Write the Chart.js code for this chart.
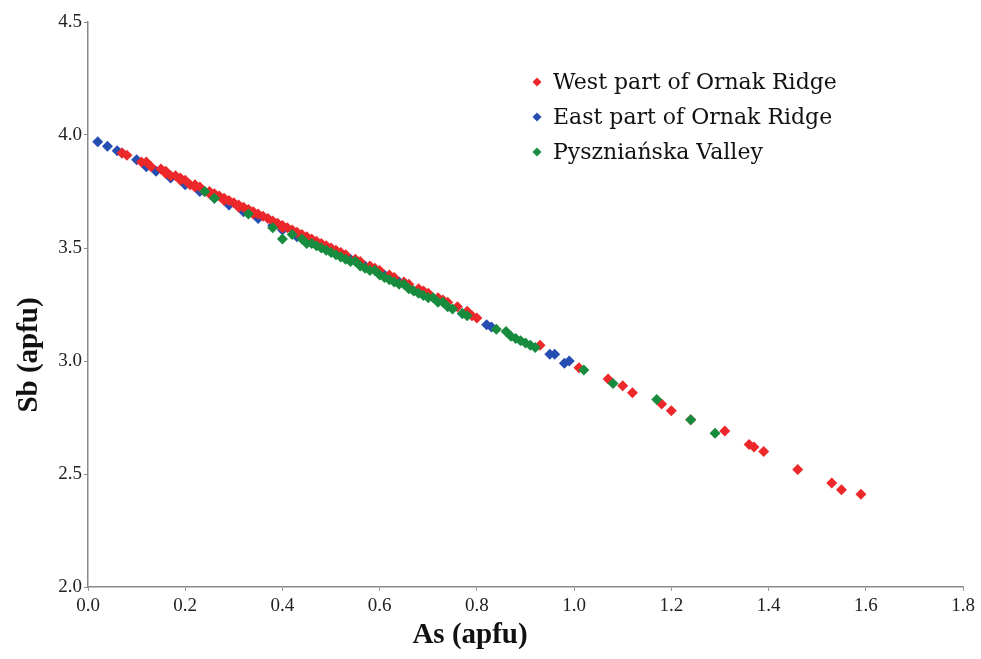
<!DOCTYPE html>
<html>
<head>
<meta charset="utf-8">
<script src="https://cdn.jsdelivr.net/npm/chart.js@4.4.1/dist/chart.umd.min.js"></script>
<style>
  html, body { margin: 0; padding: 0; background: #fff; }
  #wrap { width: 981px; height: 659px; }
</style>
</head>
<body>
<div id="wrap"><canvas id="sb-as-chart" width="981" height="659"></canvas></div>
<script>
// West part of Ornak Ridge
var westAs = [0.07,0.08,0.11,0.12,0.13,0.15,0.16,0.16,0.17,0.18,0.19,0.19,0.20,0.21,0.22,0.22,0.23,0.24,0.25,0.25,
  0.26,0.27,0.28,0.28,0.29,0.30,0.31,0.31,0.32,0.33,0.34,0.34,0.35,0.36,0.37,0.38,0.39,0.40,0.40,0.41,
  0.42,0.43,0.44,0.45,0.46,0.47,0.48,0.49,0.50,0.51,0.52,0.53,0.55,0.56,0.58,0.59,0.60,0.62,0.63,0.65,
  0.66,0.68,0.69,0.70,0.72,0.73,0.74,0.76,0.78,0.79,0.80,0.93,1.01,1.07,1.10,1.12,1.18,1.20,1.24,1.31,
  1.36,1.37,1.39,1.46,1.53,1.55,1.59];
var westSb = [3.92,3.91,3.88,3.88,3.86,3.85,3.84,3.83,3.82,3.82,3.80,3.81,3.80,3.78,3.78,3.77,3.77,3.75,3.75,3.74,
  3.74,3.73,3.72,3.71,3.71,3.70,3.69,3.68,3.68,3.67,3.66,3.65,3.65,3.64,3.63,3.62,3.61,3.60,3.59,3.59,
  3.58,3.57,3.56,3.55,3.54,3.53,3.52,3.51,3.50,3.49,3.48,3.47,3.45,3.44,3.42,3.41,3.40,3.38,3.37,3.35,
  3.34,3.32,3.31,3.30,3.28,3.27,3.26,3.24,3.22,3.20,3.19,3.07,2.97,2.92,2.89,2.86,2.81,2.78,2.74,2.69,
  2.63,2.62,2.60,2.52,2.46,2.43,2.41];

// East part of Ornak Ridge
var eastAs = [0.02,0.04,0.06,0.07,0.10,0.12,0.14,0.17,0.20,0.23,0.26,0.29,0.32,0.35,0.38,0.40,0.43,0.45,0.47,0.50,
  0.54,0.57,0.61,0.64,0.66,0.70,0.77,0.82,0.83,0.95,0.96,0.98,0.99];
var eastSb = [3.97,3.95,3.93,3.92,3.89,3.86,3.84,3.81,3.78,3.75,3.72,3.69,3.66,3.63,3.60,3.58,3.55,3.54,3.52,3.49,
  3.45,3.42,3.38,3.35,3.33,3.29,3.21,3.16,3.15,3.03,3.03,2.99,3.00];

// Pyszniańska Valley
var pyszAs = [0.24,0.26,0.33,0.38,0.40,0.42,0.44,0.45,0.46,0.47,0.48,0.49,0.50,0.51,0.52,0.53,0.54,0.55,0.56,0.57,
  0.58,0.59,0.60,0.61,0.62,0.63,0.64,0.65,0.66,0.67,0.68,0.69,0.70,0.71,0.72,0.73,0.74,0.75,0.77,0.78,
  0.84,0.86,0.87,0.88,0.89,0.90,0.91,0.92,1.02,1.08,1.17,1.24,1.29];
var pyszSb = [3.75,3.72,3.65,3.59,3.54,3.56,3.54,3.52,3.52,3.51,3.50,3.49,3.48,3.47,3.46,3.45,3.44,3.44,3.42,3.41,
  3.40,3.40,3.38,3.37,3.36,3.35,3.34,3.34,3.32,3.31,3.30,3.29,3.28,3.28,3.26,3.26,3.24,3.23,3.21,3.20,
  3.14,3.13,3.11,3.10,3.09,3.08,3.07,3.06,2.96,2.90,2.83,2.74,2.68];

var seriesNames = ['West part of Ornak Ridge', 'East part of Ornak Ridge', 'Pyszniańska Valley'];
var seriesColors = ['rgb(236,40,42)', 'rgb(38,78,178)', 'rgb(24,140,62)'];

var xTicks = [0.0, 0.2, 0.4, 0.6, 0.8, 1.0, 1.2, 1.4, 1.6, 1.8];
var yTicks = [2.0, 2.5, 3.0, 3.5, 4.0, 4.5];
var xTitle = 'As (apfu)';
var yTitle = 'Sb (apfu)';

function pairs(xs, ys) {
  var out = [];
  for (var i = 0; i < xs.length; i++) out.push({x: xs[i], y: ys[i]});
  return out;
}

var serif = "'Liberation Serif', 'DejaVu Serif', serif";

// legend inside the plot (top right) + axis titles, which sit off-centre in the original
var extras = {
  id: 'extras',
  afterDraw: function(chart) {
    var ctx = chart.ctx;
    var area = chart.chartArea;
    var x0 = area.right - 426;
    var y0 = area.top + 60;
    ctx.save();
    ctx.font = "22px 'DejaVu Serif', serif";
    ctx.textBaseline = 'middle';
    ctx.textAlign = 'left';
    for (var i = 0; i < seriesNames.length; i++) {
      var y = y0 + i * 35;
      ctx.fillStyle = seriesColors[i];
      ctx.beginPath();
      ctx.moveTo(x0, y - 4.5);
      ctx.lineTo(x0 + 4.5, y);
      ctx.lineTo(x0, y + 4.5);
      ctx.lineTo(x0 - 4.5, y);
      ctx.closePath();
      ctx.fill();
      ctx.fillStyle = '#111';
      ctx.fillText(seriesNames[i], x0 + 16, y + 1);
    }

    ctx.font = 'bold 29px ' + serif;
    ctx.fillStyle = '#111';
    ctx.textAlign = 'center';
    ctx.fillText(xTitle, 470, 636);
    ctx.translate(30, 355);
    ctx.rotate(-Math.PI / 2);
    ctx.fillText(yTitle, 0, 0);
    ctx.restore();
  }
};

var ds = [
  {label: seriesNames[0], data: pairs(westAs, westSb), order: 1},
  {label: seriesNames[1], data: pairs(eastAs, eastSb), order: 2},
  {label: seriesNames[2], data: pairs(pyszAs, pyszSb), order: 0}
];
ds.forEach(function(d, i) {
  d.backgroundColor = seriesColors[i];
  d.borderColor = seriesColors[i];
  d.pointStyle = 'rectRot';
  d.pointRadius = 5.5;
  d.pointBorderWidth = 0;
});

var ctx = document.getElementById('sb-as-chart').getContext('2d');
var myChart = new Chart(ctx, {
  type: 'scatter',
  data: { datasets: ds },
  plugins: [extras],
  options: {
    responsive: false,
    animation: false,
    layout: { padding: { top: 22, right: 18, left: 0, bottom: 0 } },
    plugins: { legend: { display: false }, tooltip: { enabled: false } },
    scales: {
      x: {
        type: 'linear',
        min: 0, max: 1.8,
        afterFit: function(s) { s.height = 72; },
        afterBuildTicks: function(s) { s.ticks = xTicks.map(function(v) { return {value: v}; }); },
        ticks: {
          color: '#222',
          font: { family: serif, size: 19 },
          padding: 4,
          maxRotation: 0,
          callback: function(v) { return Number(v).toFixed(1); }
        },
        grid: { display: true, drawOnChartArea: false, tickLength: 4, color: '#999' },
        border: { display: true, color: '#8a8a8a', width: 1.5 },
        title: { display: false }
      },
      y: {
        type: 'linear',
        min: 2, max: 4.5,
        afterFit: function(s) { s.width = 88; },
        afterBuildTicks: function(s) { s.ticks = yTicks.map(function(v) { return {value: v}; }); },
        ticks: {
          color: '#222',
          font: { family: serif, size: 19 },
          padding: 2,
          callback: function(v) { return Number(v).toFixed(1); }
        },
        grid: { display: true, drawOnChartArea: false, tickLength: 4, color: '#8a8a8a' },
        border: { display: true, color: '#8a8a8a', width: 1.5 },
        title: { display: false }
      }
    }
  }
});
</script>
</body>
</html>
